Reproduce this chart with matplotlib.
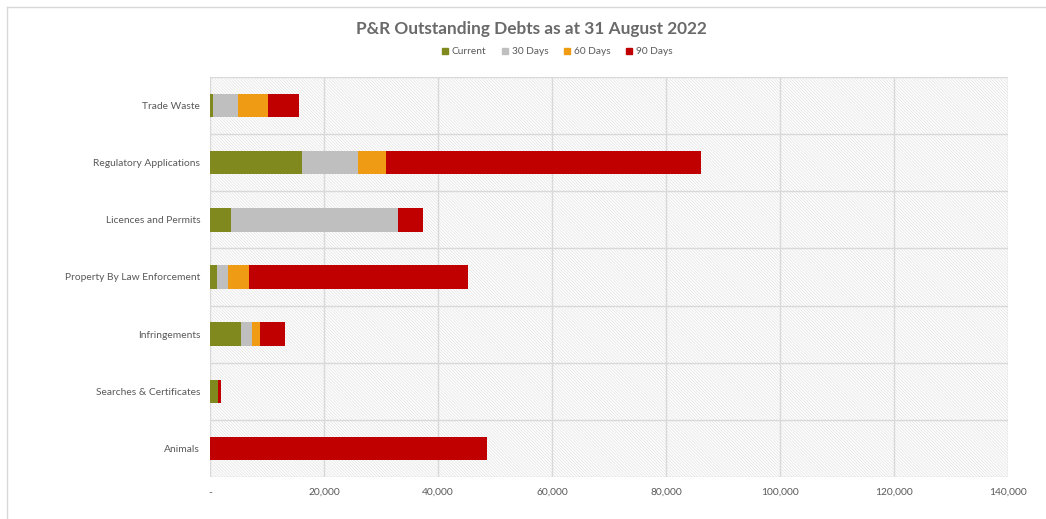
import matplotlib
matplotlib.use("Agg")
import matplotlib.pyplot as plt
from matplotlib.patches import Rectangle
from matplotlib.lines import Line2D
from matplotlib.ticker import FuncFormatter
import numpy as np

categories = [
    "Trade Waste",
    "Regulatory Applications",
    "Licences and Permits",
    "Property By Law Enforcement",
    "Infringements",
    "Searches & Certificates",
    "Animals",
]
current = [470, 16080, 3680, 1290, 5440, 1460, 0]
days_30 = [4390, 9820, 29300, 1810, 1870, 0, 0]
days_60 = [5260, 4920, 0, 3800, 1400, 0, 0]
days_90 = [5540, 55300, 4330, 38360, 4510, 410, 48650]

series_names = ["Current", "30 Days", "60 Days", "90 Days"]
series_values = [current, days_30, days_60, days_90]
series_colors = ["#7F891E", "#BFBFBF", "#EF9C14", "#C00000"]

x_ticks = [0, 20000, 40000, 60000, 80000, 100000, 120000, 140000]

plt.rcParams["font.family"] = ["Lato", "DejaVu Sans"]
plt.rcParams["hatch.color"] = "#E4E4E4"
plt.rcParams["hatch.linewidth"] = 0.55

text_color = "#595959"
grid_color = "#D9D9D9"

fig = plt.figure(figsize=(10.46, 5.19), dpi=100)
ax = fig.add_axes([210 / 1046, 1 - 477 / 519, 798 / 1046, 400 / 519])

# hatched plot-area background
bg = Rectangle((0, 0), 1, 1, transform=ax.transAxes, facecolor="white",
               edgecolor="#E4E4E4", hatch="\\" * 11, linewidth=0, zorder=0)
ax.add_patch(bg)

y = np.arange(len(categories))
left = np.zeros(len(categories))
for name, vals, col in zip(series_names, series_values, series_colors):
    vals = np.array(vals, dtype=float)
    ax.barh(y, vals, left=left, height=0.41, color=col, label=name, zorder=3,
            linewidth=0)
    left += vals

ax.set_ylim(len(categories) - 0.5, -0.5)
ax.set_xlim(0, 140000)
ax.set_xticks(x_ticks)
ax.xaxis.set_major_formatter(FuncFormatter(lambda v, p: "-" if v == 0 else f"{v:,.0f}"))
ax.set_yticks(y)
ax.set_yticklabels(categories)

for xv in x_ticks:
    ax.axvline(xv, color=grid_color, linewidth=1.0, zorder=1)
for yb in np.arange(-0.5, len(categories), 1.0):
    ax.axhline(yb, color=grid_color, linewidth=1.0, zorder=1)

for s in ax.spines.values():
    s.set_visible(False)
ax.tick_params(axis="both", length=0, colors=text_color, labelsize=7.4)
ax.tick_params(axis="y", pad=7)
ax.tick_params(axis="x", pad=8)

fig.text(0.508, 1 - 29 / 519, "P&R Outstanding Debts as at 31 August 2022",
         ha="center", va="center", fontsize=12.4, color="#6A6A6A", fontweight="bold")

handles = [Rectangle((0, 0), 1, 1, color=c) for c in series_colors]
fig.legend(handles, series_names, loc="center", bbox_to_anchor=(0.5325, 1 - 52 / 519),
           ncol=4, frameon=False, fontsize=7.3, handlelength=0.65, handleheight=0.65,
           handletextpad=0.35, columnspacing=1.5, labelcolor=text_color)

# chart border
fig.add_artist(Line2D([7 / 1046, 7 / 1046], [0, 1 - 7 / 519], transform=fig.transFigure,
                      color="#D9D9D9", linewidth=1))
fig.add_artist(Line2D([7 / 1046, 1], [1 - 7 / 519, 1 - 7 / 519], transform=fig.transFigure,
                      color="#D9D9D9", linewidth=1))

fig.savefig("out.png", dpi=100, facecolor="white")
